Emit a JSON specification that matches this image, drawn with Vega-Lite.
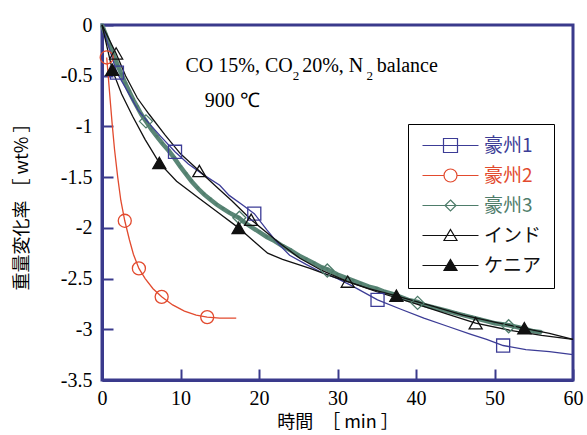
{
  "$schema": "https://vega.github.io/schema/vega-lite/v6.json",
  "width": 471,
  "height": 355,
  "autosize": {"type": "none"},
  "padding": {"left": 102, "top": 25, "right": 14, "bottom": 55},
  "background": "white",
  "config": {
    "view": {"stroke": "#3a3a8c", "strokeWidth": 3},
    "axis": {"grid": false, "domainColor": "#3a3a8c", "domainWidth": 3, "tickColor": "#3a3a8c", "tickWidth": 2, "tickSize": -11,
      "labelFont": "Liberation Serif", "labelFontSize": 20, "labelColor": "black", "labelFlush": false,
      "titleFont": "Noto Sans CJK JP", "titleFontSize": 18, "titleFontWeight": "normal", "titleColor": "black"}
  },
  "datasets": {
    "lines": [
      {"s":"豪州1","t":0,"w":0},{"s":"豪州1","t":1,"w":-0.25},{"s":"豪州1","t":1.9,"w":-0.47},{"s":"豪州1","t":3,"w":-0.62},{"s":"豪州1","t":4.6,"w":-0.84},{"s":"豪州1","t":6,"w":-0.97},{"s":"豪州1","t":7.5,"w":-1.1},{"s":"豪州1","t":9.3,"w":-1.25},{"s":"豪州1","t":11,"w":-1.37},{"s":"豪州1","t":13,"w":-1.48},{"s":"豪州1","t":15,"w":-1.58},{"s":"豪州1","t":16.2,"w":-1.68},{"s":"豪州1","t":18,"w":-1.78},{"s":"豪州1","t":19.4,"w":-1.86},{"s":"豪州1","t":21,"w":-2.02},{"s":"豪州1","t":22.5,"w":-2.16},{"s":"豪州1","t":23.9,"w":-2.27},{"s":"豪州1","t":26,"w":-2.36},{"s":"豪州1","t":28,"w":-2.44},{"s":"豪州1","t":30,"w":-2.5},{"s":"豪州1","t":31.8,"w":-2.57},{"s":"豪州1","t":35.1,"w":-2.71},{"s":"豪州1","t":38,"w":-2.8},{"s":"豪州1","t":41,"w":-2.89},{"s":"豪州1","t":44,"w":-2.97},{"s":"豪州1","t":47,"w":-3.05},{"s":"豪州1","t":49,"w":-3.1},{"s":"豪州1","t":51.1,"w":-3.16},{"s":"豪州1","t":54,"w":-3.2},{"s":"豪州1","t":57,"w":-3.22},{"s":"豪州1","t":60,"w":-3.25},
      {"s":"豪州2","t":0.6,"w":-0.32},{"s":"豪州2","t":1.0,"w":-0.7},{"s":"豪州2","t":1.3,"w":-0.98},{"s":"豪州2","t":1.6,"w":-1.23},{"s":"豪州2","t":2.0,"w":-1.5},{"s":"豪州2","t":2.4,"w":-1.73},{"s":"豪州2","t":2.9,"w":-1.93},{"s":"豪州2","t":3.5,"w":-2.12},{"s":"豪州2","t":4.0,"w":-2.26},{"s":"豪州2","t":4.7,"w":-2.4},{"s":"豪州2","t":5.5,"w":-2.5},{"s":"豪州2","t":6.5,"w":-2.6},{"s":"豪州2","t":7.6,"w":-2.68},{"s":"豪州2","t":9,"w":-2.76},{"s":"豪州2","t":10.5,"w":-2.82},{"s":"豪州2","t":12,"w":-2.86},{"s":"豪州2","t":13.4,"w":-2.88},{"s":"豪州2","t":15,"w":-2.89},{"s":"豪州2","t":17.1,"w":-2.89},
      {"s":"豪州3","t":0,"w":0},{"s":"豪州3","t":0.5,"w":-0.1},{"s":"豪州3","t":1,"w":-0.2},{"s":"豪州3","t":1.5,"w":-0.3},{"s":"豪州3","t":2,"w":-0.4},{"s":"豪州3","t":2.5,"w":-0.49},{"s":"豪州3","t":3,"w":-0.58},{"s":"豪州3","t":3.5,"w":-0.66},{"s":"豪州3","t":4,"w":-0.74},{"s":"豪州3","t":4.5,"w":-0.81},{"s":"豪州3","t":5,"w":-0.88},{"s":"豪州3","t":5.6,"w":-0.95},{"s":"豪州3","t":6.3,"w":-1.03},{"s":"豪州3","t":7,"w":-1.1},{"s":"豪州3","t":7.7,"w":-1.17},{"s":"豪州3","t":8.5,"w":-1.24},{"s":"豪州3","t":9.2,"w":-1.31},{"s":"豪州3","t":10,"w":-1.4},{"s":"豪州3","t":10.7,"w":-1.47},{"s":"豪州3","t":11.4,"w":-1.54},{"s":"豪州3","t":12.2,"w":-1.61},{"s":"豪州3","t":13,"w":-1.67},{"s":"豪州3","t":13.8,"w":-1.72},{"s":"豪州3","t":14.6,"w":-1.77},{"s":"豪州3","t":15.4,"w":-1.81},{"s":"豪州3","t":16.2,"w":-1.85},{"s":"豪州3","t":17.4,"w":-1.9},{"s":"豪州3","t":18.2,"w":-1.95},{"s":"豪州3","t":19,"w":-1.99},{"s":"豪州3","t":20,"w":-2.04},{"s":"豪州3","t":21,"w":-2.09},{"s":"豪州3","t":22,"w":-2.13},{"s":"豪州3","t":23,"w":-2.18},{"s":"豪州3","t":24,"w":-2.22},{"s":"豪州3","t":25,"w":-2.27},{"s":"豪州3","t":26,"w":-2.31},{"s":"豪州3","t":27,"w":-2.35},{"s":"豪州3","t":28,"w":-2.39},{"s":"豪州3","t":28.7,"w":-2.41},{"s":"豪州3","t":30,"w":-2.46},{"s":"豪州3","t":31,"w":-2.49},{"s":"豪州3","t":32,"w":-2.52},{"s":"豪州3","t":33,"w":-2.55},{"s":"豪州3","t":34,"w":-2.58},{"s":"豪州3","t":35,"w":-2.6},{"s":"豪州3","t":36,"w":-2.63},{"s":"豪州3","t":37,"w":-2.65},{"s":"豪州3","t":38,"w":-2.68},{"s":"豪州3","t":39,"w":-2.71},{"s":"豪州3","t":40.2,"w":-2.73},{"s":"豪州3","t":41,"w":-2.76},{"s":"豪州3","t":42,"w":-2.78},{"s":"豪州3","t":43,"w":-2.8},{"s":"豪州3","t":44,"w":-2.82},{"s":"豪州3","t":45,"w":-2.84},{"s":"豪州3","t":46,"w":-2.86},{"s":"豪州3","t":47,"w":-2.88},{"s":"豪州3","t":48,"w":-2.9},{"s":"豪州3","t":49,"w":-2.92},{"s":"豪州3","t":50,"w":-2.94},{"s":"豪州3","t":51,"w":-2.95},{"s":"豪州3","t":51.8,"w":-2.96},{"s":"豪州3","t":53,"w":-2.98},{"s":"豪州3","t":54,"w":-3.0},{"s":"豪州3","t":55,"w":-3.02},{"s":"豪州3","t":56,"w":-3.03},
      {"s":"インド","t":0,"w":0},{"s":"インド","t":1.8,"w":-0.28},{"s":"インド","t":3,"w":-0.5},{"s":"インド","t":4.5,"w":-0.72},{"s":"インド","t":6,"w":-0.88},{"s":"インド","t":8,"w":-1.08},{"s":"インド","t":10,"w":-1.27},{"s":"インド","t":12.4,"w":-1.44},{"s":"インド","t":14.5,"w":-1.59},{"s":"インド","t":16.5,"w":-1.73},{"s":"インド","t":19,"w":-1.92},{"s":"インド","t":22.6,"w":-2.15},{"s":"インド","t":25.2,"w":-2.3},{"s":"インド","t":28,"w":-2.42},{"s":"インド","t":31.3,"w":-2.53},{"s":"インド","t":35,"w":-2.63},{"s":"インド","t":40,"w":-2.75},{"s":"インド","t":44,"w":-2.85},{"s":"インド","t":47.6,"w":-2.94},{"s":"インド","t":52,"w":-3.01},{"s":"インド","t":56,"w":-3.06},{"s":"インド","t":60,"w":-3.1},
      {"s":"ケニア","t":0,"w":0},{"s":"ケニア","t":1.3,"w":-0.44},{"s":"ケニア","t":2.5,"w":-0.68},{"s":"ケニア","t":3.9,"w":-0.9},{"s":"ケニア","t":5.5,"w":-1.13},{"s":"ケニア","t":7.3,"w":-1.36},{"s":"ケニア","t":9.5,"w":-1.54},{"s":"ケニア","t":12.4,"w":-1.71},{"s":"ケニア","t":15,"w":-1.86},{"s":"ケニア","t":17.4,"w":-2.0},{"s":"ケニア","t":21.1,"w":-2.25},{"s":"ケニア","t":23,"w":-2.31},{"s":"ケニア","t":26.5,"w":-2.4},{"s":"ケニア","t":29,"w":-2.47},{"s":"ケニア","t":31.3,"w":-2.53},{"s":"ケニア","t":34,"w":-2.6},{"s":"ケニア","t":37.5,"w":-2.67},{"s":"ケニア","t":42,"w":-2.77},{"s":"ケニア","t":46,"w":-2.86},{"s":"ケニア","t":50,"w":-2.93},{"s":"ケニア","t":53.8,"w":-2.99},{"s":"ケニア","t":57,"w":-3.04},{"s":"ケニア","t":60,"w":-3.1}
    ],
    "marks": [
      {"s":"豪州1","t":1.9,"w":-0.47},{"s":"豪州1","t":9.3,"w":-1.25},{"s":"豪州1","t":19.4,"w":-1.86},{"s":"豪州1","t":35.1,"w":-2.71},{"s":"豪州1","t":51.1,"w":-3.16},
      {"s":"豪州2","t":0.6,"w":-0.32},{"s":"豪州2","t":2.9,"w":-1.93},{"s":"豪州2","t":4.7,"w":-2.4},{"s":"豪州2","t":7.6,"w":-2.68},{"s":"豪州2","t":13.4,"w":-2.88},
      {"s":"豪州3","t":5.6,"w":-0.95},{"s":"豪州3","t":17.5,"w":-1.9},{"s":"豪州3","t":28.7,"w":-2.42},{"s":"豪州3","t":40.2,"w":-2.74},{"s":"豪州3","t":51.8,"w":-2.97},
      {"s":"インド","t":1.8,"w":-0.28},{"s":"インド","t":12.4,"w":-1.44},{"s":"インド","t":19,"w":-1.92},{"s":"インド","t":31.3,"w":-2.53},{"s":"インド","t":47.6,"w":-2.94},
      {"s":"ケニア","t":1.3,"w":-0.44},{"s":"ケニア","t":7.3,"w":-1.36},{"s":"ケニア","t":17.4,"w":-2.0},{"s":"ケニア","t":37.5,"w":-2.67},{"s":"ケニア","t":53.8,"w":-2.99}
    ],
    "notes": [
      {"t":10.64,"w":-0.46,"label":"CO 15%, CO"},
      {"t":25.5,"w":-0.46,"label":"20%, N"},
      {"t":35.0,"w":-0.46,"label":"balance"},
      {"t":13.1,"w":-0.81,"label":"900  ℃"}
    ],
    "subs": [
      {"t":24.3,"w":-0.54,"label":"2"},
      {"t":33.7,"w":-0.54,"label":"2"}
    ]
  },
  "layer": [
    {
      "data": {"name": "lines"},
      "transform": [{"filter": "datum.s === '豪州3'"}],
      "mark": {"type": "line", "color": "#5a8676", "strokeWidth": 4.5},
      "encoding": {
        "x": {"field": "t", "type": "quantitative", "scale": {"domain": [0, 60], "nice": false, "zero": false},
          "axis": {"orient": "bottom", "values": [0,10,20,30,40,50,60], "title": "時間　［ min ］",
            "labelPadding": 19, "titleY": 42, "titleBaseline": "middle"}},
        "y": {"field": "w", "type": "quantitative", "scale": {"domain": [-3.5, 0], "nice": false, "zero": false},
          "axis": {"orient": "left", "values": [0,-0.5,-1,-1.5,-2,-2.5,-3,-3.5], "title": "重量変化率 ［ wt% ］",
            "labelExpr": "datum.value == 0 ? '0' : '-' + format(-datum.value, '~g')", "labelPadding": 21,
            "titleX": -80, "titleY": 177, "titleAngle": 270, "titleAlign": "center", "titleBaseline": "middle"}}
      }
    },
    {
      "data": {"name": "lines"},
      "transform": [{"filter": "datum.s === '豪州3'"}],
      "mark": {"type": "point", "shape": "triangle-down", "size": 14, "filled": true, "color": "#4e7c6a", "opacity": 0.9},
      "encoding": {
        "x": {"field": "t", "type": "quantitative"},
        "y": {"field": "w", "type": "quantitative"}
      }
    },
    {
      "data": {"name": "lines"},
      "transform": [{"filter": "datum.s !== '豪州3'"}],
      "mark": {"type": "line", "strokeWidth": 1.3},
      "encoding": {
        "x": {"field": "t", "type": "quantitative"},
        "y": {"field": "w", "type": "quantitative"},
        "color": {"field": "s", "type": "nominal",
          "scale": {"domain": ["豪州1","豪州2","インド","ケニア"], "range": ["#3c3c96","#e24a2e","#111111","#111111"]},
          "legend": null}
      }
    },
    {
      "data": {"name": "marks"},
      "mark": {"type": "point", "strokeWidth": 1.3, "opacity": 1},
      "encoding": {
        "x": {"field": "t", "type": "quantitative"},
        "y": {"field": "w", "type": "quantitative"},
        "shape": {"field": "s", "type": "nominal",
          "scale": {"domain": ["豪州1","豪州2","豪州3","インド","ケニア"], "range": ["square","circle","diamond","triangle-up","triangle-up"]},
          "legend": null},
        "stroke": {"field": "s", "type": "nominal",
          "scale": {"domain": ["豪州1","豪州2","豪州3","インド","ケニア"], "range": ["#3c3c96","#e24a2e","#4e7c6a","#111111","#111111"]},
          "legend": null},
        "fill": {"field": "s", "type": "nominal",
          "scale": {"domain": ["豪州1","豪州2","豪州3","インド","ケニア"], "range": ["transparent","transparent","transparent","transparent","#111111"]},
          "legend": null},
        "size": {"field": "s", "type": "nominal",
          "scale": {"domain": ["豪州1","豪州2","豪州3","インド","ケニア"], "range": [170,170,120,160,160]},
          "legend": null}
      }
    },
    {
      "data": {"name": "marks"},
      "transform": [{"filter": "datum.t < 0"}],
      "mark": {"type": "point", "size": 4, "strokeWidth": 1.2, "opacity": 1},
      "encoding": {
        "shape": {"field": "s", "type": "nominal",
          "scale": {"domain": ["豪州1","豪州2","豪州3","インド","ケニア"],
            "range": ["M-28,0H28M-7,-7H7V7H-7Z",
                      "M-28,0H-6.5M6.5,0H28M-6.5,0A6.5,6.5 0 1,0 6.5,0A6.5,6.5 0 1,0 -6.5,0Z",
                      "M-28,0H28M0,-5.5L5.5,0L0,5.5L-5.5,0Z",
                      "M-28,0H28M0,-6L6.5,5L-6.5,5Z",
                      "M-28,0H28M0,-6L6.5,5L-6.5,5Z"]},
          "legend": {"orient": "none", "legendX": 306, "legendY": 99, "title": null,
            "strokeColor": "black", "fillColor": "white", "padding": 12,
            "symbolSize": 4, "symbolStrokeWidth": 1.2, "symbolOffset": 21, "labelOffset": 24,
            "labelFont": "Noto Sans CJK JP", "labelFontSize": 19, "rowPadding": 10,
            "labelColor": {"expr": "datum.value === '豪州1' ? '#3c3c96' : datum.value === '豪州2' ? '#e24a2e' : datum.value === '豪州3' ? '#4e7c6a' : '#111111'"}}},
        "stroke": {"field": "s", "type": "nominal",
          "scale": {"domain": ["豪州1","豪州2","豪州3","インド","ケニア"], "range": ["#3c3c96","#e24a2e","#4e7c6a","#111111","#111111"]},
          "legend": {"orient": "none", "legendX": 306, "legendY": 99, "title": null,
            "strokeColor": "black", "fillColor": "white", "padding": 12,
            "symbolSize": 4, "symbolStrokeWidth": 1.2, "symbolOffset": 21, "labelOffset": 24,
            "labelFont": "Noto Sans CJK JP", "labelFontSize": 19, "rowPadding": 10,
            "labelColor": {"expr": "datum.value === '豪州1' ? '#3c3c96' : datum.value === '豪州2' ? '#e24a2e' : datum.value === '豪州3' ? '#4e7c6a' : '#111111'"}}},
        "fill": {"field": "s", "type": "nominal",
          "scale": {"domain": ["豪州1","豪州2","豪州3","インド","ケニア"], "range": ["transparent","transparent","transparent","transparent","#111111"]},
          "legend": {"orient": "none", "legendX": 306, "legendY": 99, "title": null,
            "strokeColor": "black", "fillColor": "white", "padding": 12,
            "symbolSize": 4, "symbolStrokeWidth": 1.2, "symbolOffset": 21, "labelOffset": 24,
            "labelFont": "Noto Sans CJK JP", "labelFontSize": 19, "rowPadding": 10,
            "labelColor": {"expr": "datum.value === '豪州1' ? '#3c3c96' : datum.value === '豪州2' ? '#e24a2e' : datum.value === '豪州3' ? '#4e7c6a' : '#111111'"}}}
      }
    },
    {
      "data": {"name": "notes"},
      "mark": {"type": "text", "font": "Liberation Serif", "fontSize": 20, "align": "left", "baseline": "alphabetic", "color": "black"},
      "encoding": {
        "x": {"field": "t", "type": "quantitative"},
        "y": {"field": "w", "type": "quantitative"},
        "text": {"field": "label"}
      }
    },
    {
      "data": {"name": "subs"},
      "mark": {"type": "text", "font": "Liberation Serif", "fontSize": 13, "align": "left", "baseline": "alphabetic", "color": "black"},
      "encoding": {
        "x": {"field": "t", "type": "quantitative"},
        "y": {"field": "w", "type": "quantitative"},
        "text": {"field": "label"}
      }
    }
  ],
  "resolve": {
    "scale": {"shape": "independent", "stroke": "independent", "fill": "independent", "size": "independent", "color": "independent"}
  }
}
